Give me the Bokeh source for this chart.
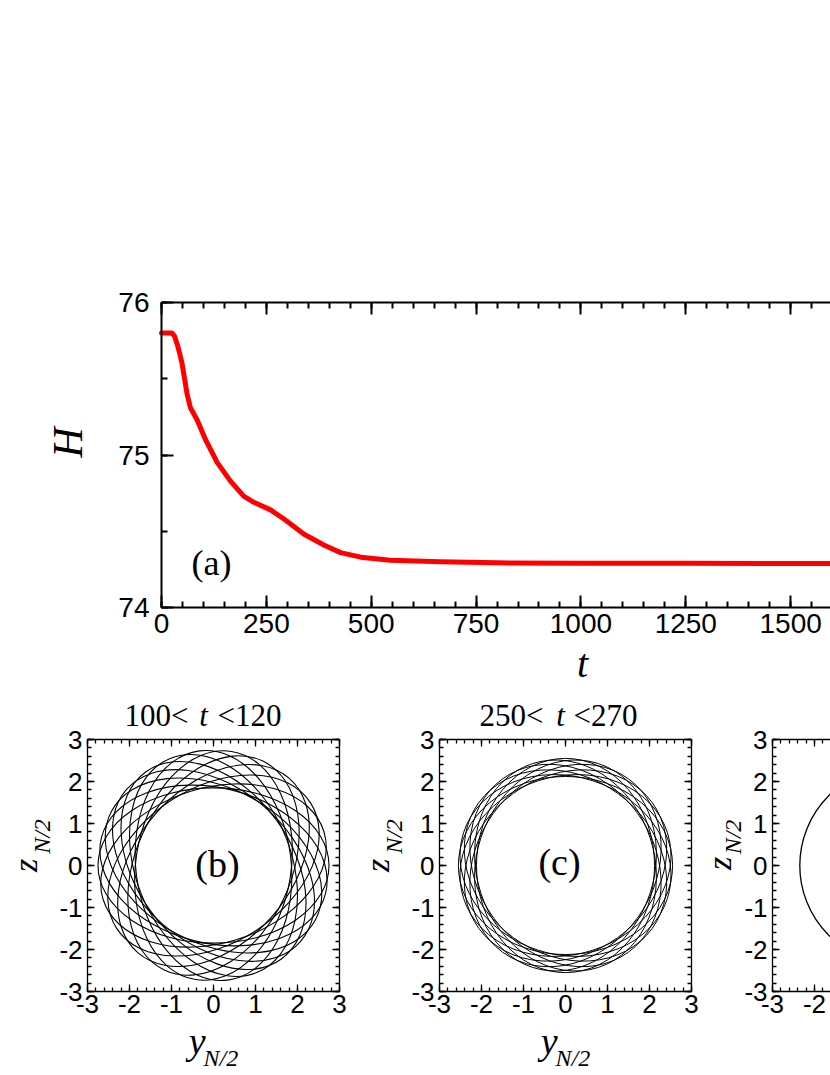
import math
from bokeh.plotting import figure
from bokeh.models import (LinearAxis, SingleIntervalTicker, Range1d, Label,
                          CustomLabelingPolicy)
from bokeh.layouts import column, row
from bokeh.embed import file_html
from bokeh.resources import INLINE

# ---------------- data ----------------
# panel (a): H(t)
t_vals = [0, 12, 25, 31, 37, 43, 49, 55, 61, 69, 85, 105, 133, 164, 196, 220, 260, 292,
          340, 387, 427, 475, 546, 665, 800, 1000, 1250, 1500, 1595]
H_vals = [75.80, 75.80, 75.80, 75.78, 75.73, 75.67, 75.60, 75.50, 75.40, 75.31, 75.23,
          75.10, 74.95, 74.83, 74.73, 74.69, 74.64, 74.58, 74.48, 74.41, 74.36, 74.33,
          74.31, 74.30, 74.293, 74.29, 74.29, 74.288, 74.288]

# panel (b): 100 < t < 120, precessing orbit loops (semi-axes, orientations in degrees)
b_semi_major = 2.75
b_semi_minor = 1.85
b_angles_deg = [0, 17, 33, 49, 65, 81, 97, 112, 126, 139, 152, 166]

# panel (c): 250 < t < 270
c_semi_major = 2.55
c_semi_minor = 2.12
c_angles_deg = [0, 18, 36, 54, 72, 90, 108, 126, 144, 162]

# panel (d): settled circular orbit
d_radius = 2.35

# texts
a_tag = "(a)"
b_tag = "(b)"
c_tag = "(c)"
b_title = ["100<", "t", "<120"]
c_title = ["250<", "t", "<270"]
minus_labels = {-3: "-3", -2: "-2", -1: "-1"}

SANS = "Liberation Sans"
SERIF = "Liberation Serif"


def style_axis(ax, lw, major_in, minor_in, fs, standoff, hide_labels=False):
    ax.axis_line_color = "black"
    ax.axis_line_width = lw
    ax.major_tick_line_color = "black"
    ax.major_tick_line_width = lw
    ax.minor_tick_line_color = "black"
    ax.minor_tick_line_width = lw
    ax.major_tick_in = major_in
    ax.major_tick_out = 0
    ax.minor_tick_in = minor_in
    ax.minor_tick_out = 0
    ax.major_label_text_font = SANS
    ax.major_label_text_color = "black"
    ax.axis_label = None
    if hide_labels:
        ax.major_label_policy = CustomLabelingPolicy(
            code="for (const i of indices) { if (i < 0) yield i }")
        ax.major_label_text_font_size = "2px"
        ax.major_label_standoff = 0
    else:
        ax.major_label_text_font_size = f"{fs}px"
        ax.major_label_standoff = standoff


def add_axis(p, side, loc, bounds, interval, nminor, lw, tin, tmin, fs, standoff,
             hide=False, overrides=None):
    ax = LinearAxis(ticker=SingleIntervalTicker(interval=interval, num_minor_ticks=nminor),
                    fixed_location=loc, bounds=bounds)
    style_axis(ax, lw, tin, tmin, fs, standoff, hide_labels=hide)
    if overrides:
        ax.major_label_overrides = overrides
    p.add_layout(ax, side)


def base_fig(width, height, xr, yr):
    p = figure(width=width, height=height, x_range=Range1d(*xr), y_range=Range1d(*yr),
               output_backend="svg", toolbar_location=None, x_axis_type=None,
               y_axis_type=None, min_border=0)
    p.outline_line_color = None
    p.background_fill_color = "white"
    p.border_fill_color = "white"
    p.grid.visible = False
    return p


def lbl(p, x, y, text, size, italic=False, align="center", angle=0.0):
    p.add_layout(Label(x=x, y=y, text=text, angle=angle, text_align=align,
                       text_baseline="middle", text_font=SERIF,
                       text_font_style="italic" if italic else "normal",
                       text_font_size=f"{size}px", text_color="black"))


# ---------------- panel (a): page 0..830 x 0..690 ----------------
A_W, A_H = 830, 690
A_FL, A_FT, A_FB = 161, 302, 607          # frame left / top / bottom (px)
T_MAX = 1595.0
SX_A = (A_W - A_FL) / T_MAX               # px per unit t
SY_A = (A_FB - A_FT) / 2.0                # px per unit H

pa = base_fig(A_W, A_H,
              (-A_FL / SX_A, T_MAX),
              (74 - (A_H - A_FB) / SY_A, 76 + A_FT / SY_A))
add_axis(pa, "below", 74, (0, T_MAX), 250, 5, 2, 12, 6, 28, 6)
add_axis(pa, "above", 76, (0, T_MAX), 250, 5, 2, 12, 6, 28, 0, hide=True)
add_axis(pa, "left", 0, (74, 76), 1, 2, 2, 12, 6, 28, 12)
pa.line(t_vals, H_vals, line_color="red", line_width=5, line_join="round", line_cap="round")


def a_xy(px, py):
    return (px - A_FL) / SX_A, 74 + (A_FB - py) / SY_A


lbl(pa, *a_xy(67, 442), "H", 42, italic=True, angle=math.pi / 2)
lbl(pa, *a_xy(582, 663), "t", 40, italic=True)
lbl(pa, *a_xy(211, 562), a_tag, 36)

# ---------------- bottom panels: page y 690..1075 ----------------
ROW_TOP, ROW_H = 690, 385
FT = 739          # frame top (px)
SC = 42.0         # px per unit


def small(page_left, page_right, frame_left, x_end_axis, right_axis=True):
    xr = (-3 - (frame_left - page_left) / SC, -3 + (page_right - frame_left) / SC)
    yr = (3 - (ROW_TOP + ROW_H - FT) / SC, 3 + (FT - ROW_TOP) / SC)
    p = base_fig(page_right - page_left, ROW_H, xr, yr)
    add_axis(p, "below", -3, (-3, x_end_axis), 1, 5, 1.3, 7, 4, 26, 3,
             overrides=minus_labels)
    add_axis(p, "above", 3, (-3, x_end_axis), 1, 5, 1.3, 7, 4, 26, 0, hide=True)
    add_axis(p, "left", -3, (-3, 3), 1, 5, 1.3, 7, 4, 26, 5, overrides=minus_labels)
    if right_axis:
        add_axis(p, "right", 3, (-3, 3), 1, 5, 1.3, 7, 4, 26, 0, hide=True)

    def xy(px, py):
        return -3 + (px - frame_left) / SC, 3 - (py - FT) / SC
    return p, xy


def decorate(p, xy, fl, title=None, tpos=None, xlabel=True, zpos=((-62, 865), (-45.5, 836))):
    (zx, zy), (nx, ny) = zpos
    lbl(p, *xy(fl + zx, zy), "z", 34, italic=True, angle=math.pi / 2)
    lbl(p, *xy(fl + nx, ny), "N/2", 24, italic=True, angle=math.pi / 2)
    if xlabel:
        lbl(p, *xy(fl + 118, 1040), "y", 38, italic=True, align="right")
        lbl(p, *xy(fl + 116, 1057), "N/2", 24, italic=True, align="left")
    if title:
        r, tc, l = tpos
        lbl(p, *xy(r, 715), title[0], 31, align="right")
        lbl(p, *xy(tc, 715), title[1], 31, italic=True)
        lbl(p, *xy(l, 715), title[2], 31, align="left")


B_END, C_END = 350, 699

# (b)
FLb = 87
pb, xyb = small(0, B_END, FLb, 3)
nb = len(b_angles_deg)
pb.ellipse(x=[0] * nb, y=[0] * nb, width=[2 * b_semi_major] * nb,
           height=[2 * b_semi_minor] * nb, angle=b_angles_deg, angle_units="deg",
           fill_color=None, line_color="black", line_width=1.1)
decorate(pb, xyb, FLb, b_title, (188, 203, 217))
lbl(pb, *xyb(217, 863), b_tag, 38)

# (c)
FLc = 439
pc, xyc = small(B_END, C_END, FLc, 3)
nc = len(c_angles_deg)
pc.ellipse(x=[0] * nc, y=[0] * nc, width=[2 * c_semi_major] * nc,
           height=[2 * c_semi_minor] * nc, angle=c_angles_deg, angle_units="deg",
           fill_color=None, line_color="black", line_width=1.0)
decorate(pc, xyc, FLc, c_title, (543, 560, 573))
lbl(pc, *xyc(559, 861), c_tag, 38)

# (d)
FLd = 772
pd, xyd = small(C_END, 830, FLd, -3 + (830 - FLd) / SC, right_axis=False)
pd.ellipse(x=[0], y=[0], width=[2 * d_radius], height=[2 * d_radius],
           fill_color=None, line_color="black", line_width=1.3)
decorate(pd, xyd, FLd, xlabel=False, zpos=((-53.5, 863), (-40, 836.5)))

layout = column(pa, row(pb, pc, pd, spacing=0), spacing=0)
open("out.html", "w").write(file_html(layout, INLINE))
